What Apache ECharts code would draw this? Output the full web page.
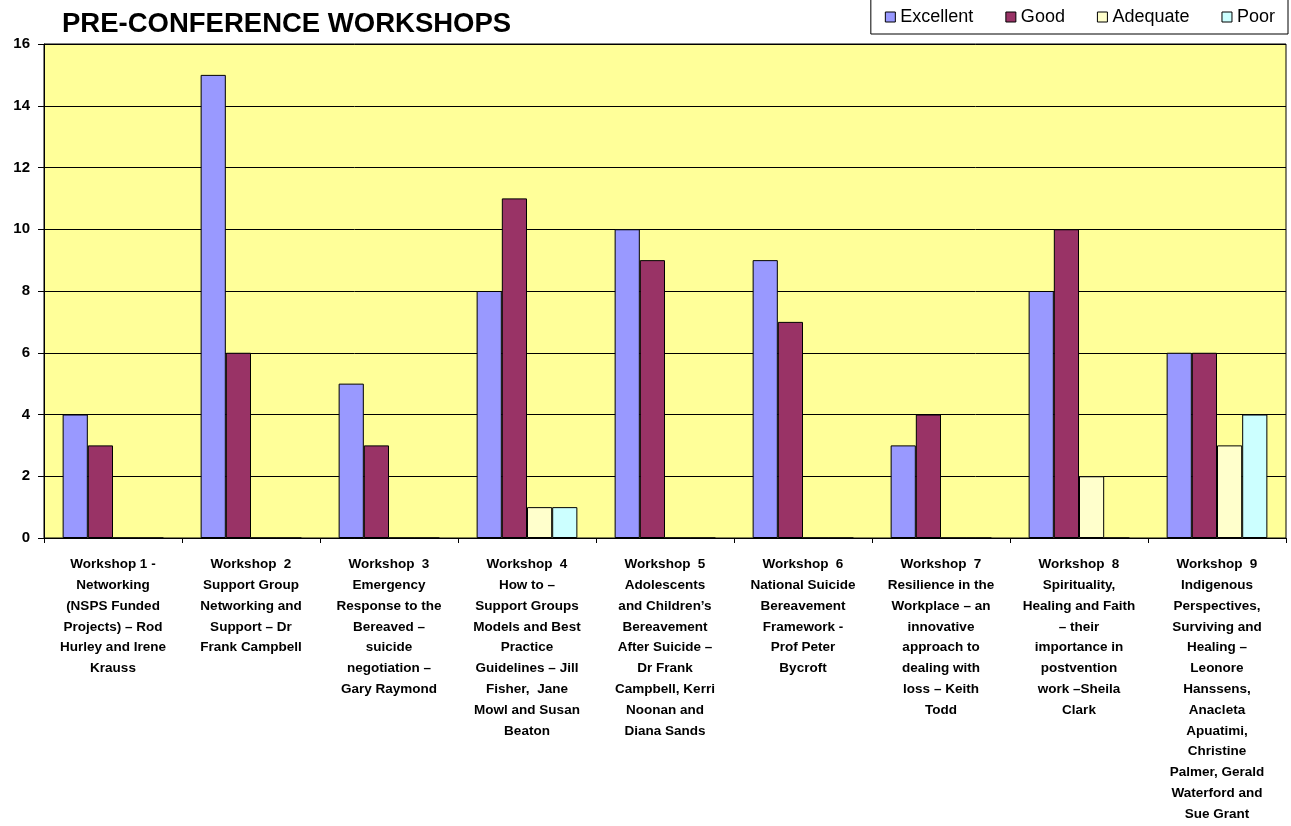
<!DOCTYPE html>
<html>
<head>
<meta charset="utf-8">
<script src="https://cdn.jsdelivr.net/npm/echarts@6/dist/echarts.min.js"></script>
<style>
html, body { margin: 0; padding: 0; background: #fff; }
#chart { width: 1291px; height: 826px; }
</style>
</head>
<body>
<div id="chart"></div>
<script>
// workshop labels, line breaks as in the original
var workshops = [
  'Workshop 1 -\nNetworking\n(NSPS Funded\nProjects) – Rod\nHurley and Irene\nKrauss',
  'Workshop  2\nSupport Group\nNetworking and\nSupport – Dr\nFrank Campbell',
  'Workshop  3\nEmergency\nResponse to the\nBereaved –\nsuicide\nnegotiation –\nGary Raymond',
  'Workshop  4\nHow to –\nSupport Groups\nModels and Best\nPractice\nGuidelines – Jill\nFisher,  Jane\nMowl and Susan\nBeaton',
  'Workshop  5\nAdolescents\nand Children’s\nBereavement\nAfter Suicide –\nDr Frank\nCampbell, Kerri\nNoonan and\nDiana Sands',
  'Workshop  6\nNational Suicide\nBereavement\nFramework -\nProf Peter\nBycroft',
  'Workshop  7\nResilience in the\nWorkplace – an\ninnovative\napproach to\ndealing with\nloss – Keith\nTodd',
  'Workshop  8\nSpirituality,\nHealing and Faith\n– their\nimportance in\npostvention\nwork –Sheila\nClark',
  'Workshop  9\nIndigenous\nPerspectives,\nSurviving and\nHealing –\nLeonore\nHanssens,\nAnacleta\nApuatimi,\nChristine\nPalmer, Gerald\nWaterford and\nSue Grant'
]

var excellent = [4, 15, 5, 8, 10, 9, 3, 8, 6]
var good      = [3, 6, 3, 11, 9, 7, 4, 10, 6]
var adequate  = [0, 0, 0, 1, 0, 0, 0, 2, 3]
var poor      = [0, 0, 0, 1, 0, 0, 0, 0, 4]

var font = "'Liberation Sans', Arial, sans-serif"

function bar(name, data, color) {
  return {
    name: name,
    type: 'bar',
    barGap: 0,
    barCategoryGap: '27%',
    itemStyle: { color: color, borderColor: '#000', borderWidth: 1 },
    data: data
  }
}

var chart = echarts.init(document.getElementById('chart'))
var option = {
  backgroundColor: '#fff',
  animation: false,
  title: {
    text: 'PRE-CONFERENCE WORKSHOPS',
    left: 57,
    top: 5,
    textStyle: { fontFamily: font, fontSize: 27.5, fontWeight: 'bold', color: '#000' }
  },
  legend: {
    right: 3,
    top: -1,
    padding: [9, 13, 8, 14],
    borderColor: '#000',
    borderWidth: 1,
    itemWidth: 10,
    itemHeight: 10,
    itemGap: 32,
    icon: 'rect',
    itemStyle: { borderColor: '#000', borderWidth: 1 },
    textStyle: { fontFamily: font, fontSize: 18, color: '#000' }
  },
  grid: {
    left: 44,
    right: 5,
    top: 44,
    bottom: 288,
    outerBoundsMode: 'none',
    show: true,
    backgroundColor: '#FFFF99',
    borderColor: '#000',
    borderWidth: 1
  },
  xAxis: {
    type: 'category',
    data: workshops,
    axisLine: { lineStyle: { color: '#000', width: 1 } },
    axisTick: { show: true, length: 5, lineStyle: { color: '#000' } },
    axisLabel: {
      interval: 0,
      margin: 16,
      fontFamily: font,
      fontSize: 13.5,
      fontWeight: 'bold',
      lineHeight: 20.8,
      color: '#000',
      align: 'center'
    }
  },
  yAxis: {
    type: 'value',
    min: 0,
    max: 16,
    interval: 2,
    axisLine: { show: true, lineStyle: { color: '#000', width: 1 } },
    axisTick: { show: true, length: 6, lineStyle: { color: '#000' } },
    splitLine: { lineStyle: { color: '#000', width: 1 } },
    axisLabel: {
      margin: 14,
      fontFamily: font,
      fontSize: 15,
      fontWeight: 'bold',
      color: '#000'
    }
  },
  series: [
    bar('Excellent', excellent, '#9999FF'),
    bar('Good', good, '#993366'),
    bar('Adequate', adequate, '#FFFFCC'),
    bar('Poor', poor, '#CCFFFF')
  ]
}
chart.setOption(option)
window.onresize = function () { chart.resize() }
</script>
</body>
</html>
